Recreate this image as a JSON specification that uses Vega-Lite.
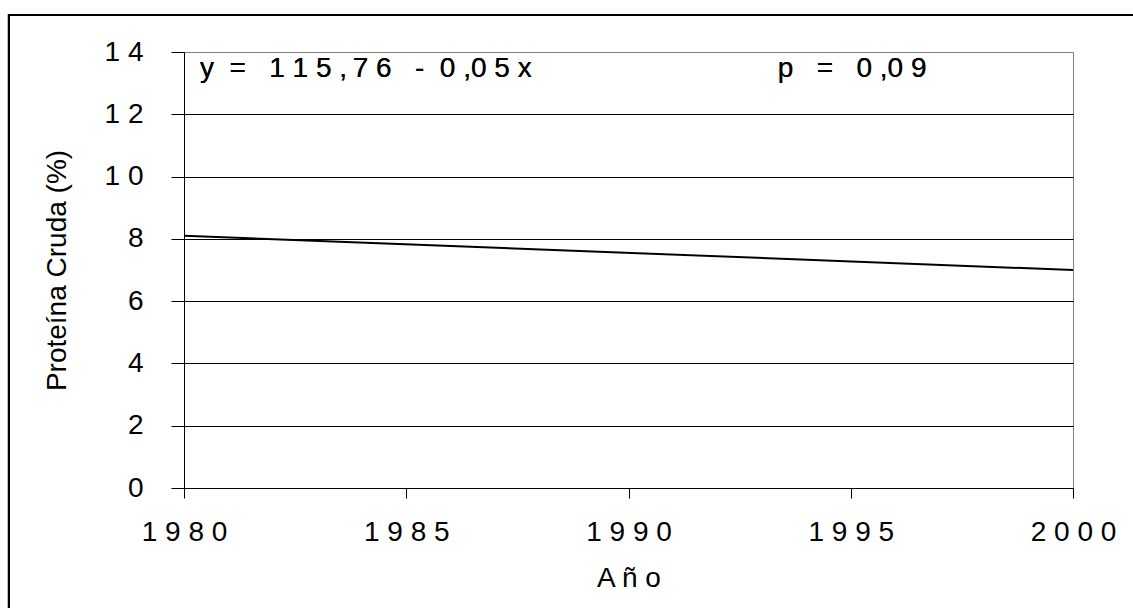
{
  "$schema": "https://vega.github.io/schema/vega-lite/v6.json",
  "autosize": {"type": "none"},
  "width": 889,
  "height": 436,
  "padding": {"left": 184, "top": 52, "right": 60, "bottom": 120},
  "background": "white",
  "config": {
    "font": "Liberation Sans",
    "view": {"stroke": "#808080", "strokeWidth": 1},
    "axis": {
      "labelFont": "Liberation Sans",
      "titleFont": "Liberation Sans",
      "labelFontSize": 28,
      "titleFontSize": 28,
      "labelColor": "black",
      "titleColor": "black",
      "titleFontWeight": "normal",
      "domainColor": "black",
      "tickColor": "black",
      "domainWidth": 1,
      "tickWidth": 1
    }
  },
  "data": {
    "values": [
      {"year": 1980, "pc": 8.1},
      {"year": 2000, "pc": 7.0}
    ]
  },
  "layer": [
    {
      "mark": {"type": "line", "color": "black", "strokeWidth": 2},
      "encoding": {
        "x": {
          "field": "year",
          "type": "quantitative",
          "scale": {"domain": [1980, 2000], "nice": false, "zero": false},
          "axis": {
            "values": [1980, 1985, 1990, 1995, 2000],
            "format": "d",
            "labelExpr": "substring(datum.label,0,1)+' '+substring(datum.label,1,2)+' '+substring(datum.label,2,3)+' '+substring(datum.label,3,4)",
            "grid": false,
            "tickSize": 10,
            "labelPadding": 20,
            "labelFlush": false,
            "title": "A ñ o",
            "titlePadding": 18
          }
        },
        "y": {
          "field": "pc",
          "type": "quantitative",
          "scale": {"domain": [0, 14], "nice": false},
          "axis": {
            "values": [0, 2, 4, 6, 8, 10, 12, 14],
            "format": "d",
            "labelExpr": "datum.value >= 10 ? substring(datum.label,0,1)+' '+substring(datum.label,1,2) : datum.label",
            "grid": true,
            "gridColor": {"condition": {"test": "datum.value == 14", "value": "#808080"}, "value": "black"},
            "gridWidth": 1,
            "tickSize": 13,
            "labelPadding": 28,
            "labelFlush": false,
            "title": "Proteína Cruda (%)",
            "titlePadding": 33
          }
        }
      }
    },
    {
      "mark": {"type": "text", "align": "left", "baseline": "alphabetic", "fontSize": 28, "font": "Liberation Sans", "color": "black"},
      "encoding": {
        "x": {"datum": 1980.36, "type": "quantitative"},
        "y": {"datum": 13.2, "type": "quantitative"},
        "text": {"value": "y\u00a0\u00a0=\u00a0\u00a0\u00a01\u00a01\u00a05\u00a0,\u20097\u00a06\u00a0\u00a0\u00a0-\u00a0\u00a00\u00a0,0\u00a05\u00a0x"}
      }
    },
    {
      "mark": {"type": "text", "align": "left", "baseline": "alphabetic", "fontSize": 28, "font": "Liberation Sans", "color": "black"},
      "encoding": {
        "x": {"datum": 1993.36, "type": "quantitative"},
        "y": {"datum": 13.2, "type": "quantitative"},
        "text": {"value": "p\u00a0\u00a0\u00a0=\u00a0\u00a0\u00a00\u00a0,0\u00a09"}
      }
    },
    {
      "mark": {"type": "rect", "fill": null, "fillOpacity": 0, "stroke": "black", "strokeWidth": 2, "clip": false},
      "encoding": {
        "x": {"datum": 1976.06, "type": "quantitative"},
        "x2": {"datum": 2004},
        "y": {"datum": 15.19, "type": "quantitative"},
        "y2": {"datum": -6}
      }
    }
  ]
}
